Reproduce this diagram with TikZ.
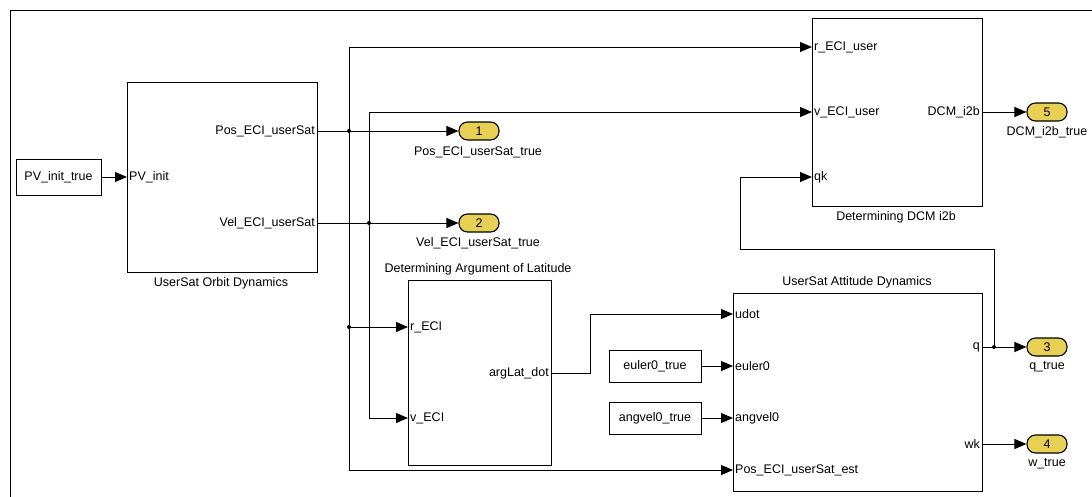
\documentclass[tikz,border=0pt]{standalone}
\usepackage{fontspec}
\setmainfont{Liberation Sans}
\usetikzlibrary{arrows.meta}
\definecolor{portyellow}{RGB}{232,208,84}
\begin{document}
\begin{tikzpicture}[x=1pt,y=-1pt,
  font=\fontsize{12.5}{14}\selectfont,
  wire/.style={line width=1pt,-{Triangle[length=12pt,width=10pt]}},
  plain/.style={line width=1pt},
  blockbox/.style={draw,line width=1.1pt,anchor=north west,inner sep=0pt},
  srcbox/.style={draw,line width=0.9pt,minimum width=92pt,minimum height=32pt,inner sep=0pt},
  outport/.style={draw,line width=1.1pt,fill=portyellow,rounded corners=8.5pt,minimum width=40pt,minimum height=18pt,inner sep=0pt},
  inl/.style={anchor=west,inner sep=2pt},
  inr/.style={anchor=east,inner sep=2pt},
  jdot/.style={circle,fill,inner sep=0pt,minimum size=4pt},
  caption/.style={inner sep=0pt}
]
\useasboundingbox (0,0) rectangle (1092,496);
% outer frame
\draw[line width=1pt] (10,500) -- (10,10) -- (1095,10);

% blocks
\node[blockbox,minimum width=190pt,minimum height=190pt] (orbit) at (127,82) {};
\node[blockbox,minimum width=170pt,minimum height=188pt] (dcm) at (812,18) {};
\node[blockbox,minimum width=143pt,minimum height=185pt] (arg) at (408,280) {};
\node[blockbox,minimum width=249pt,minimum height=198pt] (att) at (733,293) {};

% captions
\node[caption] (capo) at (221,283) {UserSat Orbit Dynamics};
\node[caption] (capd) at (896,217) {Determining DCM i2b};
\node[caption] (capa) at (478,269) {Determining Argument of Latitude};
\node[caption] (capt) at (857,282) {UserSat Attitude Dynamics};

% sources
\node[srcbox,minimum width=85pt,minimum height=36pt] (pvin) at (58.5,177) {PV\_init\_true};
\node[srcbox] (eul) at (655,366) {euler0\_true};
\node[srcbox] (ang) at (655,418) {angvel0\_true};

% outports
\node[outport] (o1) at (479,131) {1};
\node[outport] (o2) at (479,223) {2};
\node[outport] (o5) at (1047,112) {5};
\node[outport] (o3) at (1047,347) {3};
\node[outport] (o4) at (1047,444) {4};
\node[caption] (l1) at (478,152) {Pos\_ECI\_userSat\_true};
\node[caption] (l2) at (478,243) {Vel\_ECI\_userSat\_true};
\node[caption] (l5) at (1047,132) {DCM\_i2b\_true};
\node[caption] (l3) at (1047,367) {q\_true};
\node[caption] (l4) at (1047,464) {w\_true};

% port coordinates
\coordinate (oin) at (127,177);
\coordinate (opos) at (317,131);
\coordinate (ovel) at (317,223);
\coordinate (dr) at (812,47);
\coordinate (dv) at (812,112);
\coordinate (dq) at (812,177);
\coordinate (dout) at (982,112);
\coordinate (ar) at (408,327);
\coordinate (av) at (408,418);
\coordinate (aout) at (551,373);
\coordinate (tu) at (733,314);
\coordinate (te) at (733,366);
\coordinate (ta) at (733,418);
\coordinate (tp) at (733,470);
\coordinate (tq) at (982,347);
\coordinate (tw) at (982,444);
\coordinate (j1) at (349,131);
\coordinate (j2) at (369,223);
\coordinate (j3) at (349,327);
\coordinate (j4) at (994,347);
\coordinate (b1) at (590,373);
\coordinate (b2) at (994,249);
\coordinate (b3) at (740,249);

% port labels
\node[inl] (p1) at (oin) {PV\_init};
\node[inr] (p2) at (opos) {Pos\_ECI\_userSat};
\node[inr] (p3) at (ovel) {Vel\_ECI\_userSat};
\node[inl] (p4) at (dr) {r\_ECI\_user};
\node[inl] (p5) at (dv) {v\_ECI\_user};
\node[inl] (p6) at (dq) {qk};
\node[inr] (p7) at (dout) {DCM\_i2b};
\node[inl] (p8) at (ar) {r\_ECI};
\node[inl] (p9) at (av) {v\_ECI};
\node[inr] (p10) at (aout) {argLat\_dot};
\node[inl] (p11) at (tu) {udot};
\node[inl] (p12) at (te) {euler0};
\node[inl] (p13) at (ta) {angvel0};
\node[inl] (p14) at (tp) {Pos\_ECI\_userSat\_est};
\node[inr] (p15) at (tq) {q};
\node[inr] (p16) at (tw) {wk};

% wires
\draw[wire] (pvin.east) -- (oin);
\draw[wire] (opos) -- (o1.west);
\draw[wire] (ovel) -- (o2.west);
\draw[wire] (j1) |- (dr);
\draw[wire] (j1) |- (tp);
\draw[wire] (j3) -- (ar);
\draw[wire] (j2) |- (dv);
\draw[wire] (j2) |- (av);
\draw[wire] (aout) -- (b1) |- (tu);
\draw[wire] (eul.east) -- (te);
\draw[wire] (ang.east) -- (ta);
\draw[wire] (dout) -- (o5.west);
\draw[wire] (tq) -- (o3.west);
\draw[wire] (j4) -- (b2) -- (b3) |- (dq);
\draw[wire] (tw) -- (o4.west);

% junctions
\node[jdot] (d1) at (j1) {};
\node[jdot] (d2) at (j2) {};
\node[jdot] (d3) at (j3) {};
\node[jdot] (d4) at (j4) {};
\end{tikzpicture}
\end{document}
